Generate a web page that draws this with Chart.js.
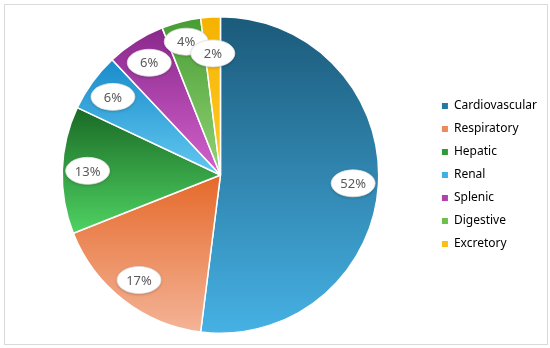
<!DOCTYPE html>
<html>
<head>
<meta charset="utf-8">
<script src="https://cdn.jsdelivr.net/npm/chart.js@4.4.1/dist/chart.umd.min.js"></script>
<style>
  html, body { margin: 0; padding: 0; background: #fff; }
  #wrap { position: absolute; left: 4px; top: 4px; width: 542px; height: 339px; border: 1px solid #d9d9d9; }
  #chart { position: absolute; left: 0; top: 0; }
</style>
</head>
<body>
<div id="wrap"></div>
<canvas id="chart" width="550" height="348"></canvas>
<script>
const categories = ['Cardiovascular', 'Respiratory', 'Hepatic', 'Renal', 'Splenic', 'Digestive', 'Excretory'];
const shares = [52, 17, 13, 6, 6, 4, 2];

// gradient top / bottom per slice, plus flat legend colour
const topColors = ['#1b5a7a', '#e5692a', '#1a6a25', '#1a8ccb', '#8a288c', '#479c34', '#f5b300'];
const bottomColors = ['#46b1e4', '#f4b497', '#4fd262', '#62c8f0', '#d262cc', '#92d476', '#ffca28'];
const legendColors = ['#2478a3', '#ec8a5e', '#2f9a3a', '#3db0e6', '#b042ac', '#6cc04e', '#fbbf10'];

function sliceGradient(context) {
  const chart = context.chart;
  const area = chart.chartArea;
  const i = context.dataIndex;
  if (!area || i === undefined) return topColors[i] || '#999';
  const meta = chart.getDatasetMeta(0);
  const r = meta.controller.outerRadius || Math.min(area.width, area.height) / 2;
  const cx = (area.left + area.right) / 2;
  const cy = (area.top + area.bottom) / 2;
  const total = shares.reduce((a, b) => a + b, 0);
  let before = 0;
  for (let k = 0; k < i; k++) before += shares[k];
  const a0 = -Math.PI / 2 + before / total * 2 * Math.PI;
  const a1 = a0 + shares[i] / total * 2 * Math.PI;
  let ys = [cy, cy + r * Math.sin(a0), cy + r * Math.sin(a1)];
  for (const a of [Math.PI / 2, 3 * Math.PI / 2, -Math.PI / 2]) {
    if (a > a0 && a < a1) ys.push(cy + r * Math.sin(a));
  }
  const y0 = Math.min(...ys), y1 = Math.max(...ys);
  const g = chart.ctx.createLinearGradient(0, y0, 0, y1);
  g.addColorStop(0, topColors[i]);
  g.addColorStop(1, bottomColors[i]);
  return g;
}

const bubbleLabels = {
  id: 'bubbleLabels',
  afterDatasetsDraw(chart) {
    const ctx = chart.ctx;
    const arcs = chart.getDatasetMeta(0).data;
    arcs.forEach((arc, i) => {
      const p = arc.getProps(['x', 'y', 'startAngle', 'endAngle', 'outerRadius'], true);
      const mid = (p.startAngle + p.endAngle) / 2;
      let f = 0.84;
      if (i === arcs.length - 1) f = 0.77;
      if (i === arcs.length - 2) f = 0.87;
      const x = p.x + Math.cos(mid) * p.outerRadius * f;
      const y = p.y + Math.sin(mid) * p.outerRadius * f;
      ctx.save();
      ctx.shadowColor = 'rgba(0,0,0,0.25)';
      ctx.shadowBlur = 3;
      ctx.shadowOffsetY = 1;
      ctx.beginPath();
      ctx.ellipse(x, y, 22, 13.5, 0, 0, Math.PI * 2);
      ctx.fillStyle = '#ffffff';
      ctx.fill();
      ctx.shadowColor = 'transparent';
      ctx.lineWidth = 0.8;
      ctx.strokeStyle = '#e2e2e2';
      ctx.stroke();
      ctx.fillStyle = '#595959';
      ctx.font = '13px "Noto Sans"';
      ctx.textAlign = 'center';
      ctx.textBaseline = 'middle';
      ctx.fillText(shares[i] + '%', x, y + 1);
      ctx.restore();
    });
  }
};

new Chart(document.getElementById('chart'), {
  type: 'pie',
  data: {
    labels: categories,
    datasets: [{
      data: shares,
      backgroundColor: sliceGradient,
      borderColor: '#ffffff',
      borderWidth: 1.5
    }]
  },
  options: {
    responsive: false,
    animation: false,
    layout: { padding: { left: 10, right: 3, top: 16, bottom: 14 } },
    plugins: {
      tooltip: { enabled: false },
      legend: {
        position: 'right',
        labels: {
          boxWidth: 6,
          boxHeight: 6,
          padding: 11,
          color: '#404040',
          font: { family: 'Noto Sans', size: 12 },
          generateLabels: () => categories.map((c, i) => ({
            text: c, fillStyle: legendColors[i], strokeStyle: legendColors[i], lineWidth: 0, index: i
          }))
        }
      }
    }
  },
  plugins: [bubbleLabels]
});
</script>
</body>
</html>
